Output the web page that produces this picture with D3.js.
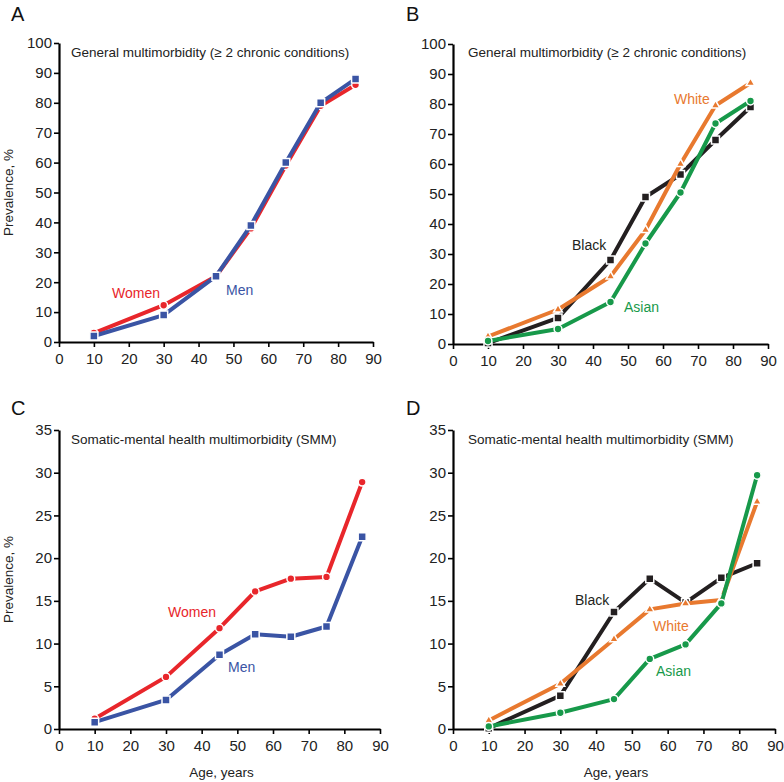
<!DOCTYPE html>
<html>
<head>
<meta charset="utf-8">
<script src="https://cdn.jsdelivr.net/npm/d3@7"></script>
<style>
  body { margin: 0; background: #fff; }
  svg text { font-family: "Liberation Sans", Arial, sans-serif; }
</style>
</head>
<body>
<div id="chart"></div>
<script>
// Données
const ages = [10, 30, 45, 55, 65, 75, 85];
const xTicks = [0, 10, 20, 30, 40, 50, 60, 70, 80, 90];

// A : multimorbidité générale, par sexe
const genWomen = [3, 12.3, 22, 38, 59, 79, 86];
const genMen = [2, 9, 22, 39, 60, 80, 88];
// B : multimorbidité générale, par origine
const genBlack = [0.3, 8.7, 28, 49, 56.5, 68, 79];
const genWhite = [2.5, 11.5, 22.5, 38, 60, 79.5, 87];
const genAsian = [1, 5, 14, 33.5, 50.5, 73.5, 81];
// C : SMM par sexe
const smmWomen = [1.2, 6.1, 11.8, 16.1, 17.6, 17.8, 28.9];
const smmMen = [0.8, 3.4, 8.7, 11.1, 10.8, 12.0, 22.5];
// D : SMM par origine
const smmBlack = [0.1, 3.9, 13.7, 17.6, 14.8, 17.7, 19.4];
const smmWhite = [1.0, 5.3, 10.5, 14.0, 14.7, 15.1, 26.6];
const smmAsian = [0.3, 1.9, 3.5, 8.2, 9.9, 14.7, 29.7];

const titleGen = "General multimorbidity (\u2265 2 chronic conditions)";
const titleSmm = "Somatic-mental health multimorbidity (SMM)";

const colors = {
  women: "#e8262b", men: "#3a54a4",
  black: "#231f20", white: "#e8792f", asian: "#17994a"
};

// Panneaux
const panels = [
  { letter: "A", lx: 11, ly: 21, x0: 59, x1: 373, y0: 342, y1: 43, yMax: 100, yStep: 10,
    title: titleGen, tx: 71, ty: 57, ylab: true, xlab: false,
    series: [
      { values: genWomen, color: colors.women, shape: "circle" },
      { values: genMen, color: colors.men, shape: "square" }
    ],
    labels: [
      { text: "Women", x: 112, y: 298, color: colors.women },
      { text: "Men", x: 226, y: 295, color: colors.men }
    ] },
  { letter: "B", lx: 406, ly: 21, x0: 453, x1: 768, y0: 344, y1: 44, yMax: 100, yStep: 10,
    title: titleGen, tx: 468, ty: 57, ylab: false, xlab: false,
    series: [
      { values: genBlack, color: colors.black, shape: "square" },
      { values: genWhite, color: colors.white, shape: "triangle" },
      { values: genAsian, color: colors.asian, shape: "circle" }
    ],
    labels: [
      { text: "White", x: 674, y: 104, color: colors.white },
      { text: "Black", x: 572, y: 250, color: colors.black },
      { text: "Asian", x: 624, y: 312, color: colors.asian }
    ] },
  { letter: "C", lx: 11, ly: 415, x0: 59, x1: 380, y0: 729, y1: 430, yMax: 35, yStep: 5,
    title: titleSmm, tx: 71, ty: 444, ylab: true, xlab: true,
    series: [
      { values: smmWomen, color: colors.women, shape: "circle" },
      { values: smmMen, color: colors.men, shape: "square" }
    ],
    labels: [
      { text: "Women", x: 168, y: 617, color: colors.women },
      { text: "Men", x: 228, y: 672, color: colors.men }
    ] },
  { letter: "D", lx: 406, ly: 415, x0: 453, x1: 775, y0: 729, y1: 430, yMax: 35, yStep: 5,
    title: titleSmm, tx: 468, ty: 444, ylab: false, xlab: true,
    series: [
      { values: smmBlack, color: colors.black, shape: "square" },
      { values: smmWhite, color: colors.white, shape: "triangle" },
      { values: smmAsian, color: colors.asian, shape: "circle" }
    ],
    labels: [
      { text: "Black", x: 575, y: 605, color: colors.black },
      { text: "White", x: 653, y: 631, color: colors.white },
      { text: "Asian", x: 656, y: 676, color: colors.asian }
    ] }
];

const svg = d3.select("#chart").append("svg")
  .attr("width", 784).attr("height", 782);

const symbols = {
  circle: d3.symbol().type(d3.symbolCircle).size(48),
  square: d3.symbol().type(d3.symbolSquare).size(64),
  triangle: d3.symbol().type(d3.symbolTriangle).size(34)
};

panels.forEach((p) => {
  const x = d3.scaleLinear().domain([0, 90]).range([p.x0, p.x1]);
  const y = d3.scaleLinear().domain([0, p.yMax]).range([p.y0, p.y1]);
  const g = svg.append("g");

  // Lettre du panneau
  g.append("text").attr("x", p.lx).attr("y", p.ly)
    .attr("font-size", 20).attr("fill", "#111").text(p.letter);

  // Axes
  const xAxis = g.append("g").attr("transform", `translate(0,${p.y0})`)
    .call(d3.axisBottom(x).tickValues(xTicks).tickSize(5).tickSizeOuter(0));
  const yTicks = d3.range(0, p.yMax + 0.01, p.yStep);
  const yAxis = g.append("g").attr("transform", `translate(${p.x0},0)`)
    .call(d3.axisLeft(y).tickValues(yTicks).tickSize(5).tickSizeOuter(0));
  [xAxis, yAxis].forEach((a) => {
    a.select(".domain").attr("stroke", "#000").attr("stroke-width", 2.2);
    a.selectAll(".tick line").attr("stroke", "#000").attr("stroke-width", 1.6);
    a.selectAll(".tick text").attr("font-size", 15).attr("fill", "#222")
      .attr("font-family", "Liberation Sans, Arial, sans-serif");
  });
  xAxis.selectAll(".tick text").attr("dy", "0.9em");
  yAxis.selectAll(".tick text").attr("x", -7);

  // Titre
  g.append("text").attr("x", p.tx).attr("y", p.ty)
    .attr("font-size", 13.5).attr("fill", "#222").text(p.title);

  if (p.ylab) {
    const cy = (p.y0 + p.y1) / 2;
    g.append("text").attr("transform", `translate(13,${cy}) rotate(-90)`)
      .attr("text-anchor", "middle").attr("font-size", 13.5).attr("fill", "#222")
      .text("Prevalence, %");
  }
  if (p.xlab) {
    g.append("text").attr("x", (p.x0 + p.x1) / 2 + 2).attr("y", 777)
      .attr("text-anchor", "middle").attr("font-size", 13.5).attr("fill", "#222")
      .text("Age, years");
  }

  // Séries
  const line = d3.line().x((d, i) => x(ages[i])).y((d) => y(d));
  p.series.forEach((s) => {
    g.append("path").datum(s.values)
      .attr("d", line).attr("fill", "none")
      .attr("stroke", s.color).attr("stroke-width", 4)
      .attr("stroke-linejoin", "round");
    g.selectAll(null).data(s.values).join("path")
      .attr("transform", (d, i) => `translate(${x(ages[i])},${y(d)})`)
      .attr("d", symbols[s.shape]())
      .attr("fill", s.color)
      .attr("stroke", "#fff").attr("stroke-width", 1.5);
  });

  // Étiquettes
  p.labels.forEach((l) => {
    g.append("text").attr("x", l.x).attr("y", l.y)
      .attr("font-size", 14).attr("fill", l.color).text(l.text);
  });
});
</script>
</body>
</html>
